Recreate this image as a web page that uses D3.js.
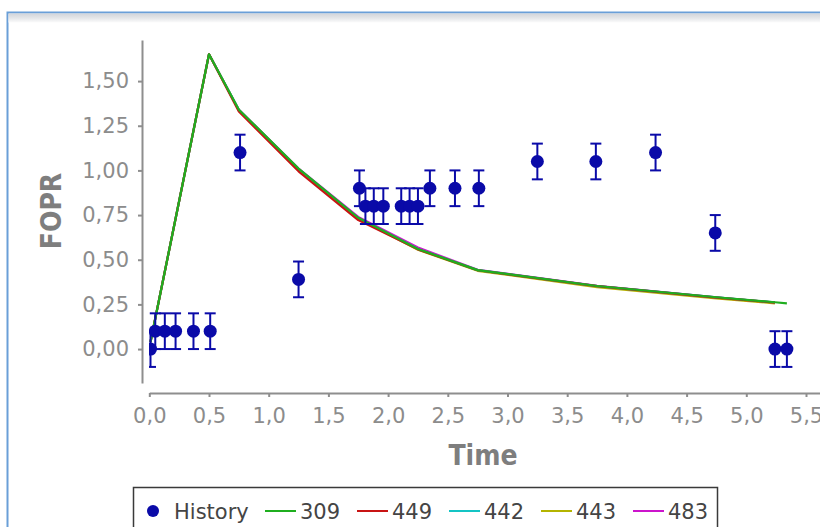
<!DOCTYPE html>
<html>
<head>
<meta charset="utf-8">
<script src="https://cdn.jsdelivr.net/npm/d3@7"></script>
<style>
  html, body { margin: 0; padding: 0; background: #fff; }
  .tick text { font-family: "DejaVu Sans", sans-serif; font-size: 21px; fill: #8c8c8c; }
  .axis path, .axis line { stroke: #8e8e8e; stroke-width: 2; }
</style>
</head>
<body>
<div class="container"></div>
<script>
const WIDTH = 820;
const HEIGHT = 527;

// observed history
var historyTime = [0.01, 0.05, 0.13, 0.22, 0.37, 0.51, 0.76, 1.25, 1.76, 1.81, 1.88, 1.96,
  2.11, 2.18, 2.25, 2.35, 2.56, 2.76, 3.25, 3.74, 4.24, 4.74, 5.24, 5.34];
var historyValue = [0.0, 0.1, 0.1, 0.1, 0.1, 0.1, 1.1, 0.39, 0.9, 0.8, 0.8, 0.8,
  0.8, 0.8, 0.8, 0.9, 0.9, 0.9, 1.05, 1.05, 1.1, 0.65, 0.0, 0.0];
var historyError = [0.1, 0.1, 0.1, 0.1, 0.1, 0.1, 0.1, 0.1, 0.1, 0.1, 0.1, 0.1,
  0.1, 0.1, 0.1, 0.1, 0.1, 0.1, 0.1, 0.1, 0.1, 0.1, 0.1, 0.1];

// simulated realisations
var simTime = [0.01, 0.5, 0.75, 1.25, 1.75, 2.25, 2.75, 3.75, 4.75, 5.24, 5.34];
var sim309 = [0.04, 1.65, 1.34, 1.01, 0.735, 0.56, 0.442, 0.353, 0.29, 0.262, 0.256];
var sim449 = [0.04, 1.65, 1.33, 0.995, 0.722, 0.558, 0.441, 0.352, 0.288, 0.26];
var sim442 = [0.04, 1.65, 1.34, 1.008, 0.733, 0.56, 0.442, 0.352, 0.289, 0.261];
var sim443 = [0.04, 1.65, 1.338, 1.005, 0.73, 0.556, 0.438, 0.347, 0.283, 0.256];
var sim483 = [0.04, 1.65, 1.34, 1.01, 0.74, 0.568, 0.444, 0.354, 0.29, 0.26];

var seriesNames = ['309', '449', '442', '443', '483'];
var seriesValues = [sim309, sim449, sim442, sim443, sim483];
var seriesColors = ['#1fae1f', '#c81414', '#14c4c4', '#b4b400', '#cc14cc'];

var xTicks = [0, 0.5, 1, 1.5, 2, 2.5, 3, 3.5, 4, 4.5, 5, 5.5];
var yTicks = [0, 0.25, 0.5, 0.75, 1, 1.25, 1.5];

var locale = d3.formatLocale({ decimal: ',', thousands: '.', grouping: [3], currency: ['', ''] });

var svg = d3.select('.container').append('svg')
  .attr('width', WIDTH)
  .attr('height', HEIGHT)
  .style('display', 'block');

// panel frame
var grad = svg.append('defs').append('linearGradient')
  .attr('id', 'hdr').attr('x1', 0).attr('x2', 0).attr('y1', 0).attr('y2', 1);
grad.append('stop').attr('offset', 0).attr('stop-color', '#d2d5da');
grad.append('stop').attr('offset', 0.45).attr('stop-color', '#e2e4e7');
grad.append('stop').attr('offset', 1).attr('stop-color', '#fbfbfb');

svg.append('rect')
  .attr('x', 7.5).attr('y', 12.5).attr('width', 900).attr('height', 600)
  .attr('fill', '#fff').attr('stroke', '#6a9fd8').attr('stroke-width', 2);
svg.append('rect')
  .attr('x', 8.5).attr('y', 13.5).attr('width', 900).attr('height', 9)
  .attr('fill', 'url(#hdr)');

var x = d3.scaleLinear().domain([0, 5.65]).range([149.3, 149.3 + 5.65 * 119.4]);
var y = d3.scaleLinear().domain([-0.19, 1.73]).range([383, 40]);

svg.select('defs').append('clipPath').attr('id', 'plot')
  .append('rect').attr('x', 149).attr('y', 40).attr('width', 700).attr('height', 343);

// axes
svg.append('g')
  .attr('class', 'axis')
  .attr('transform', 'translate(142,0)')
  .call(d3.axisLeft(y).tickValues(yTicks).tickSize(4).tickSizeOuter(0).tickPadding(9)
    .tickFormat(locale.format('.2f')));

svg.append('g')
  .attr('class', 'axis')
  .attr('transform', 'translate(0,393)')
  .call(d3.axisBottom(x).tickValues(xTicks).tickSize(4).tickSizeOuter(0).tickPadding(11)
    .tickFormat(locale.format('.1f')));

svg.append('text')
  .attr('transform', 'translate(61,211) rotate(-90)')
  .attr('text-anchor', 'middle')
  .style('font-family', '"DejaVu Sans Condensed", "DejaVu Sans", sans-serif')
  .style('font-stretch', 'condensed')
  .style('font-weight', 'bold')
  .style('font-size', '28px')
  .style('fill', '#7e7e7e')
  .text('FOPR');

svg.append('text')
  .attr('x', 483).attr('y', 465)
  .attr('text-anchor', 'middle')
  .style('font-family', '"DejaVu Sans Condensed", "DejaVu Sans", sans-serif')
  .style('font-stretch', 'condensed')
  .style('font-weight', 'bold')
  .style('font-size', '28px')
  .style('fill', '#7e7e7e')
  .text('Time');

var plot = svg.append('g').attr('clip-path', 'url(#plot)');

// lines, green drawn last so it sits on top
var line = d3.line()
  .x(function (d) { return x(d[0]); })
  .y(function (d) { return y(d[1]); });

[4, 3, 2, 1, 0].forEach(function (s) {
  var pts = seriesValues[s].map(function (v, i) { return [simTime[i], v]; });
  plot.append('path')
    .attr('d', line(pts))
    .attr('fill', 'none')
    .attr('stroke', seriesColors[s])
    .attr('stroke-width', 2.2)
    .attr('stroke-linejoin', 'round');
});

// history with error bars
var hist = historyTime.map(function (t, i) {
  return { t: t, v: historyValue[i], e: historyError[i] };
});
var blue = '#0a0aa8';
var bars = plot.append('g').attr('stroke', blue).attr('stroke-width', 2).attr('fill', 'none');
hist.forEach(function (d) {
  var cx = x(d.t);
  bars.append('line').attr('x1', cx).attr('x2', cx).attr('y1', y(d.v - d.e)).attr('y2', y(d.v + d.e));
  bars.append('line').attr('x1', cx - 5.5).attr('x2', cx + 5.5).attr('y1', y(d.v - d.e)).attr('y2', y(d.v - d.e));
  bars.append('line').attr('x1', cx - 5.5).attr('x2', cx + 5.5).attr('y1', y(d.v + d.e)).attr('y2', y(d.v + d.e));
});
plot.append('g').selectAll('circle')
  .data(hist)
  .enter().append('circle')
  .attr('cx', function (d) { return x(d.t); })
  .attr('cy', function (d) { return y(d.v); })
  .attr('r', 6.5)
  .attr('fill', blue);

// legend
var legend = svg.append('g');
legend.append('rect')
  .attr('x', 133.5).attr('y', 487.5).attr('width', 584).attr('height', 60)
  .attr('fill', '#fff').attr('stroke', '#3a3a3a').attr('stroke-width', 1.5);
legend.append('circle').attr('cx', 153).attr('cy', 511).attr('r', 6).attr('fill', blue);
legend.append('text')
  .attr('x', 174).attr('y', 519)
  .style('font-family', '"DejaVu Sans", sans-serif').style('font-size', '21px').style('fill', '#444')
  .text('History');
seriesNames.forEach(function (name, i) {
  var x0 = 265 + i * 92;
  legend.append('line')
    .attr('x1', x0).attr('x2', x0 + 31).attr('y1', 511).attr('y2', 511)
    .attr('stroke', seriesColors[i]).attr('stroke-width', 2);
  legend.append('text')
    .attr('x', x0 + 35).attr('y', 519)
    .style('font-family', '"DejaVu Sans", sans-serif').style('font-size', '21px').style('fill', '#444')
    .text(name);
});
</script>
</body>
</html>
